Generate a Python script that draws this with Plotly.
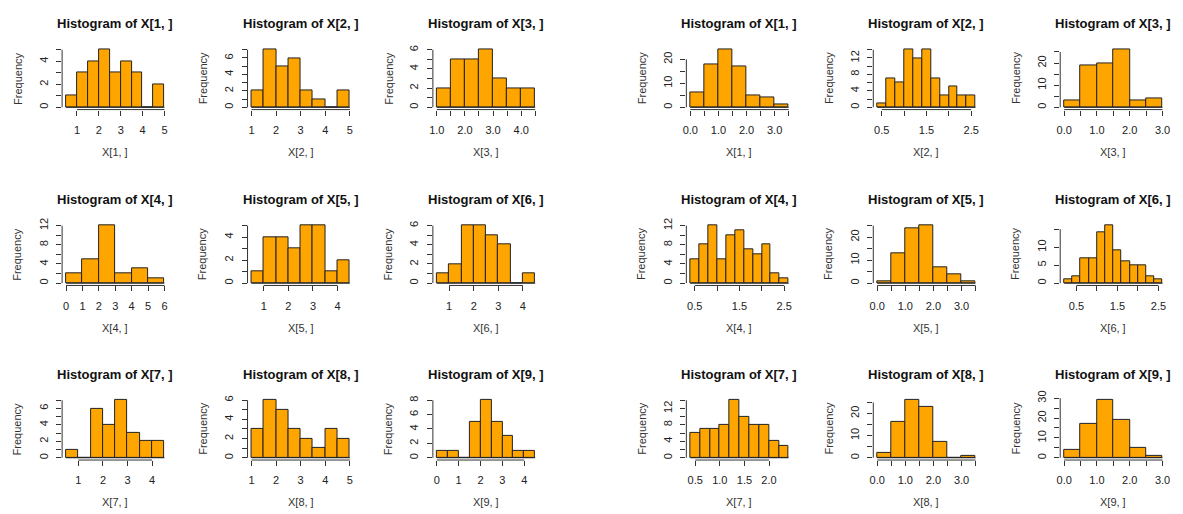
import plotly.graph_objects as go

# ---- histogram data: first break, bin width and counts per panel ----
panel_names = ["X[1, ]", "X[2, ]", "X[3, ]", "X[4, ]", "X[5, ]",
               "X[6, ]", "X[7, ]", "X[8, ]", "X[9, ]"]

left_start = [0.5, 1.0, 1.0, 0.0, 0.5, 0.5, 0.5, 1.0, 0.0]
left_binwidth = [0.5, 0.5, 0.5, 1.0, 0.5, 0.5, 0.5, 0.5, 0.5]
left_counts = [
    [1, 3, 4, 5, 3, 4, 3, 0, 2],
    [2, 7, 5, 6, 2, 1, 0, 2],
    [2, 5, 5, 6, 3, 2, 2],
    [2, 5, 12, 2, 3, 1],
    [1, 4, 4, 3, 5, 5, 1, 2],
    [1, 2, 6, 6, 5, 4, 0, 1],
    [1, 0, 6, 4, 7, 3, 2, 2],
    [3, 6, 5, 3, 2, 1, 3, 2],
    [1, 1, 0, 5, 8, 5, 3, 1, 1],
]

right_start = [0.0, 0.4, 0.0, 0.4, 0.0, 0.2, 0.4, 0.0, 0.0]
right_binwidth = [0.5, 0.2, 0.5, 0.2, 0.5, 0.2, 0.2, 0.5, 0.5]
right_counts = [
    [6, 18, 24, 17, 5, 4, 1],
    [1, 7, 6, 14, 12, 14, 7, 3, 5, 3, 3],
    [3, 19, 20, 26, 3, 4],
    [5, 8, 12, 5, 10, 11, 7, 6, 8, 2, 1],
    [1, 13, 24, 25, 7, 4, 1],
    [1, 2, 7, 7, 14, 16, 9, 6, 5, 5, 2, 1],
    [6, 7, 7, 8, 14, 10, 8, 8, 4, 3],
    [2, 16, 26, 23, 7, 0, 1],
    [4, 17, 29, 19, 5, 1],
]

# ---- axis ticks (empty label = tick mark without text) ----
left_xticks = [
    [1, 2, 3, 4, 5], [1, 2, 3, 4, 5],
    [1.0, 1.5, 2.0, 2.5, 3.0, 3.5, 4.0, 4.5],
    [0, 1, 2, 3, 4, 5, 6], [1, 2, 3, 4], [1, 2, 3, 4],
    [1, 2, 3, 4], [1, 2, 3, 4, 5], [0, 1, 2, 3, 4],
]
left_xlabels = [
    ["1", "2", "3", "4", "5"], ["1", "2", "3", "4", "5"],
    ["1.0", "", "2.0", "", "3.0", "", "4.0", ""],
    ["0", "1", "2", "3", "4", "5", "6"], ["1", "2", "3", "4"], ["1", "2", "3", "4"],
    ["1", "2", "3", "4"], ["1", "2", "3", "4", "5"], ["0", "1", "2", "3", "4"],
]
left_yticks = [
    [0, 1, 2, 3, 4, 5], [0, 1, 2, 3, 4, 5, 6, 7], [0, 1, 2, 3, 4, 5, 6],
    [0, 2, 4, 6, 8, 10, 12], [0, 1, 2, 3, 4, 5], [0, 1, 2, 3, 4, 5, 6],
    [0, 1, 2, 3, 4, 5, 6, 7], [0, 1, 2, 3, 4, 5, 6], [0, 2, 4, 6, 8],
]
left_ylabels = [
    ["0", "", "2", "", "4", ""], ["0", "", "2", "", "4", "", "6", ""],
    ["0", "", "2", "", "4", "", "6"],
    ["0", "", "4", "", "8", "", "12"], ["0", "", "2", "", "4", ""],
    ["0", "", "2", "", "4", "", "6"],
    ["0", "", "2", "", "4", "", "6", ""], ["0", "", "2", "", "4", "", "6"],
    ["0", "2", "4", "6", "8"],
]

right_xticks = [
    [0.0, 0.5, 1.0, 1.5, 2.0, 2.5, 3.0, 3.5], [0.5, 1.0, 1.5, 2.0, 2.5],
    [0.0, 0.5, 1.0, 1.5, 2.0, 2.5, 3.0],
    [0.5, 1.0, 1.5, 2.0, 2.5], [0.0, 0.5, 1.0, 1.5, 2.0, 2.5, 3.0, 3.5],
    [0.5, 1.0, 1.5, 2.0, 2.5],
    [0.5, 1.0, 1.5, 2.0], [0.0, 0.5, 1.0, 1.5, 2.0, 2.5, 3.0, 3.5],
    [0.0, 0.5, 1.0, 1.5, 2.0, 2.5, 3.0],
]
right_xlabels = [
    ["0.0", "", "1.0", "", "2.0", "", "3.0", ""], ["0.5", "", "1.5", "", "2.5"],
    ["0.0", "", "1.0", "", "2.0", "", "3.0"],
    ["0.5", "", "1.5", "", "2.5"], ["0.0", "", "1.0", "", "2.0", "", "3.0", ""],
    ["0.5", "", "1.5", "", "2.5"],
    ["0.5", "1.0", "1.5", "2.0"], ["0.0", "", "1.0", "", "2.0", "", "3.0", ""],
    ["0.0", "", "1.0", "", "2.0", "", "3.0"],
]
right_yticks = [
    [0, 5, 10, 15, 20], [0, 2, 4, 6, 8, 10, 12, 14], [0, 5, 10, 15, 20, 25],
    [0, 2, 4, 6, 8, 10, 12], [0, 5, 10, 15, 20, 25], [0, 5, 10, 15],
    [0, 2, 4, 6, 8, 10, 12, 14], [0, 5, 10, 15, 20, 25], [0, 5, 10, 15, 20, 25, 30],
]
right_ylabels = [
    ["0", "", "10", "", "20"], ["0", "", "4", "", "8", "", "12", ""],
    ["0", "", "10", "", "20", ""],
    ["0", "", "4", "", "8", "", "12"], ["0", "", "10", "", "20", ""],
    ["0", "5", "10", ""],
    ["0", "", "4", "", "8", "", "12", ""], ["0", "", "10", "", "20", ""],
    ["0", "", "10", "", "20", "", "30"],
]

# ---- page geometry (pixels) ----
W, H = 1183, 514
LEFT_X0 = [58.5, 245.2, 431.8]
RIGHT_X0 = [687.0, 875.2, 1063.4]
ROW_Y0 = [41.0, 219.3, 396.3]
PW, PH = 107.0, 63.0

FONT = "Liberation Sans, Arial, sans-serif"
BAR_FILL = "#FFA500"
INK = "#222222"

fig = go.Figure()
layout = dict(shapes=[], annotations=[])


def px(x):
    return x / W


def py(y):
    return 1 - y / H


def add_panel(idx, x0, y0, name, start, bw, counts, xt, xl, yt, yl):
    n = len(counts)
    edges = [start + bw * k for k in range(n + 1)]
    mids = [start + bw * (k + 0.5) for k in range(n)]
    top = max(counts)
    lo, hi = edges[0], edges[-1]
    pad = 0.04 * (hi - lo)
    suffix = "" if idx == 1 else str(idx)
    xa, ya = "x" + suffix, "y" + suffix
    xkey, ykey = "xaxis" + suffix, "yaxis" + suffix

    fig.add_trace(go.Bar(
        x=mids, y=counts, width=[bw] * n, xaxis=xa, yaxis=ya,
        marker=dict(color=BAR_FILL, line=dict(color=INK, width=1)),
        hoverinfo="x+y",
    ))
    # empty bins still show their bottom edge
    fig.add_trace(go.Scatter(
        x=[lo, hi], y=[0, 0], xaxis=xa, yaxis=ya, mode="lines",
        line=dict(color=INK, width=1), hoverinfo="skip",
    ))

    tick_common = dict(ticks="outside", ticklen=5, tickwidth=1, tickcolor="#333",
                       showline=False, showgrid=False, zeroline=False,
                       tickfont=dict(family=FONT, size=11, color=INK),
                       fixedrange=True)
    layout[xkey] = dict(domain=[px(x0), px(x0 + PW)], anchor=ya,
                        range=[lo - pad, hi + pad], tickmode="array",
                        tickvals=xt, ticktext=xl, tickangle=0,
                        ticklabelstandoff=5, **tick_common)
    layout[ykey] = dict(domain=[py(y0 + PH), py(y0)], anchor=xa,
                        range=[-0.04 * top, 1.04 * top], tickmode="array",
                        tickvals=yt, ticktext=yl, tickangle=-90,
                        ticklabelstandoff=4, **tick_common)

    # axis lines run from the first to the last tick
    layout["shapes"].append(dict(type="line", xref=xa, yref=ya + " domain",
                                 x0=xt[0], x1=xt[-1], y0=0, y1=0,
                                 line=dict(color="#333", width=1)))
    layout["shapes"].append(dict(type="line", xref=xa + " domain", yref=ya,
                                 x0=0, x1=0, y0=yt[0], y1=yt[-1],
                                 line=dict(color="#333", width=1)))

    cx = px(x0 + PW / 2)
    layout["annotations"].append(dict(
        text=f"<b>Histogram of {name}</b>",
        x=cx, y=py(y0 - 24), xref="paper", yref="paper", showarrow=False,
        xanchor="center", yanchor="middle",
        font=dict(family=FONT, size=13, color="#111")))
    layout["annotations"].append(dict(
        text=name, x=cx, y=py(y0 + PH + 43), xref="paper", yref="paper",
        showarrow=False, xanchor="center", yanchor="middle",
        font=dict(family=FONT, size=11, color="#333")))
    layout["annotations"].append(dict(
        text="Frequency", x=px(x0 - 45), y=py(y0 + PH / 2), xref="paper",
        yref="paper", showarrow=False, textangle=-90, xanchor="center",
        yanchor="middle", font=dict(family=FONT, size=11, color="#333")))


idx = 1
for group_x0, starts, widths, counts, xts, xls, yts, yls in [
    (LEFT_X0, left_start, left_binwidth, left_counts,
     left_xticks, left_xlabels, left_yticks, left_ylabels),
    (RIGHT_X0, right_start, right_binwidth, right_counts,
     right_xticks, right_xlabels, right_yticks, right_ylabels),
]:
    for k in range(9):
        r, c = divmod(k, 3)
        add_panel(idx, group_x0[c], ROW_Y0[r], panel_names[k], starts[k],
                  widths[k], counts[k], xts[k], xls[k], yts[k], yls[k])
        idx += 1

fig.update_layout(
    width=W, height=H, margin=dict(l=0, r=0, t=0, b=0),
    paper_bgcolor="white", plot_bgcolor="white", showlegend=False,
    bargap=0, **layout,
)

fig.write_html("out.html")
